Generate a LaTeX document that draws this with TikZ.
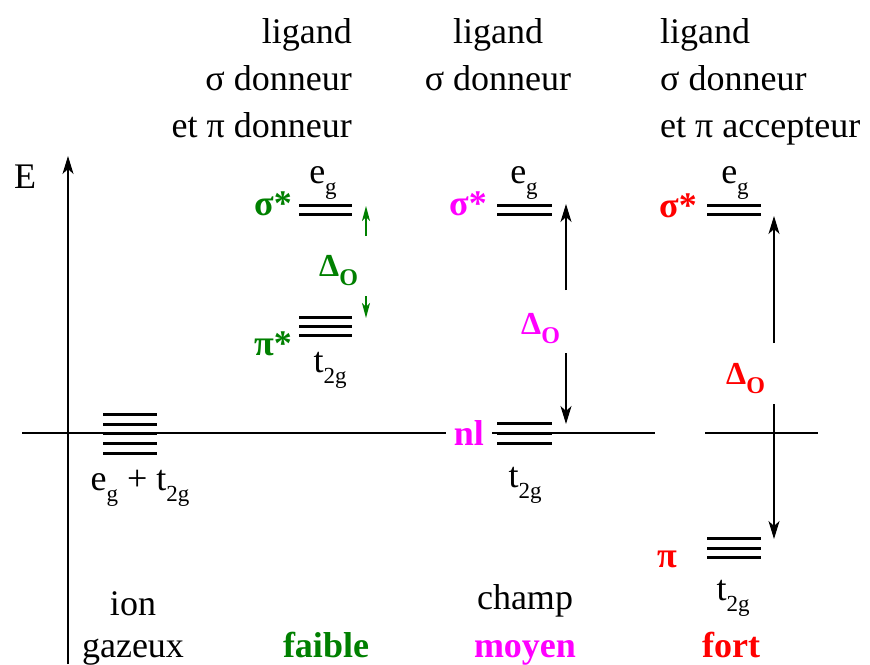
\documentclass[tikz,border=0pt]{standalone}
\usepackage{fontspec}
\setmainfont{Liberation Serif}
\usetikzlibrary{arrows.meta,positioning}
\definecolor{cFaible}{HTML}{008000}
\definecolor{cMoyen}{HTML}{FF00FF}
\definecolor{cFort}{HTML}{FF0000}
\newcommand{\lowidx}[1]{\raisebox{-0.33em}{\fontsize{23}{23}\selectfont #1}}
\newcommand{\delo}{\fontsize{32}{32}\selectfont\bfseries Δ\raisebox{-0.3em}{\fontsize{24}{24}\selectfont O}}
\tikzset{
  >={Stealth[length=18pt,width=11pt,inset=5pt]},
  lvl/.style ={line width=3pt},
  axe/.style ={line width=1.2pt},
  gap/.style ={->,line width=1.2pt},
  txt/.style ={inner sep=0pt,font=\fontsize{36}{40}\selectfont},
  orb/.style ={inner sep=0pt,font=\fontsize{36}{40}\selectfont\bfseries},
  dlt/.style ={inner sep=0pt},
}
\begin{document}
\begin{tikzpicture}[x=1pt,y=-1pt]
  \useasboundingbox (0,0) rectangle (870,664);

  % axes
  \coordinate (ax0) at (68,664);
  \coordinate (ax1) at (68,156);
  \draw[axe,->] (ax0) -- (ax1);
  \node[txt,anchor=base] (E) at (25,188) {E};
  \coordinate (h0) at (22,433);
  \coordinate (h1) at (655,433);
  \coordinate (h2) at (705,433);
  \coordinate (h3) at (818,433);
  \draw[axe] (h0) -- (h1);
  \draw[axe] (h2) -- (h3);

  % headers
  \node[txt,anchor=base east] (f1) at (352,43) {ligand};
  \node[txt,anchor=base east] (f2) at (352,90) {σ donneur};
  \node[txt,anchor=base east] (f3) at (352,137) {et π donneur};
  \node[txt,anchor=base] (m1) at (498,43) {ligand};
  \node[txt,anchor=base] (m2) at (498,90) {σ donneur};
  \node[txt,anchor=base west] (s1) at (660,43) {ligand};
  \node[txt,anchor=base west] (s2) at (660,90) {σ donneur};
  \node[txt,anchor=base west] (s3) at (660,137) {et π accepteur};

  % ion gazeux
  \foreach \y in {414,424,433,443,453}
    \draw[lvl] (103,\y) -- (157,\y);
  \node[txt,anchor=base] (ion) at (140,490) {e\lowidx{g} + t\lowidx{2g}};

  % faible
  \foreach \y in {205,214}
    \draw[lvl] (299,\y) -- (352,\y);
  \foreach \y in {317,326,335}
    \draw[lvl] (299,\y) -- (352,\y);
  \node[txt,anchor=base] (fe) at (323,183) {e\lowidx{g}};
  \node[txt,anchor=base] (ft) at (330,372) {t\lowidx{2g}};
  \node[orb,cFaible,anchor=base east] (fs) at (292,215) {σ*};
  \node[orb,cFaible,anchor=base east] (fp) at (292,355) {π*};
  \node[dlt,cFaible,anchor=base west] (fd) at (319,276) {\delo};
  \coordinate (fa0) at (366,236);
  \coordinate (fa1) at (366,206);
  \coordinate (fa2) at (366,296);
  \coordinate (fa3) at (366,318);
  \draw[->,cFaible,line width=1.2pt,>={Stealth[length=15pt,width=8pt,inset=4pt]}] (fa0) -- (fa1);
  \draw[->,cFaible,line width=1.2pt,>={Stealth[length=15pt,width=8pt,inset=4pt]}] (fa2) -- (fa3);

  % moyen
  \foreach \y in {205,214}
    \draw[lvl] (497,\y) -- (552,\y);
  \node[orb,cMoyen,anchor=base east,fill=white,inner xsep=8pt,inner ysep=2pt] (mn) at (492,445) {nl};
  \foreach \y in {423,433,443}
    \draw[lvl] (497,\y) -- (552,\y);
  \node[txt,anchor=base] (me) at (524,183) {e\lowidx{g}};
  \node[txt,anchor=base] (mt) at (525,487) {t\lowidx{2g}};
  \node[orb,cMoyen,anchor=base east] (ms) at (487,215) {σ*};
  \node[dlt,cMoyen,anchor=base west] (md) at (521,334) {\delo};
  \coordinate (ma0) at (566,290);
  \coordinate (ma1) at (566,204);
  \coordinate (ma2) at (566,353);
  \coordinate (ma3) at (566,424);
  \draw[gap] (ma0) -- (ma1);
  \draw[gap] (ma2) -- (ma3);

  % fort
  \foreach \y in {205,214}
    \draw[lvl] (707,\y) -- (761,\y);
  \foreach \y in {538,548,557}
    \draw[lvl] (707,\y) -- (761,\y);
  \node[txt,anchor=base] (se) at (735,183) {e\lowidx{g}};
  \node[txt,anchor=base] (st) at (733,600) {t\lowidx{2g}};
  \node[orb,cFort,anchor=base east] (ss) at (697,217) {σ*};
  \node[orb,cFort,anchor=base east] (sp) at (677,567) {π};
  \node[dlt,cFort,anchor=base west] (sd) at (726,384) {\delo};
  \coordinate (sa0) at (774,343);
  \coordinate (sa1) at (774,216);
  \coordinate (sa2) at (774,404);
  \coordinate (sa3) at (774,539);
  \draw[gap] (sa0) -- (sa1);
  \draw[gap] (sa2) -- (sa3);

  % bottom labels
  \node[txt,anchor=base] (b1) at (133,615) {ion};
  \node[txt,anchor=base] (b2) at (133,657) {gazeux};
  \node[orb,cFaible,anchor=base] (b3) at (326,657) {faible};
  \node[txt,anchor=base] (b4) at (525,609) {champ};
  \node[orb,cMoyen,anchor=base] (b5) at (525,657) {moyen};
  \node[orb,cFort,anchor=base] (b6) at (731,657) {fort};
\end{tikzpicture}
\end{document}
